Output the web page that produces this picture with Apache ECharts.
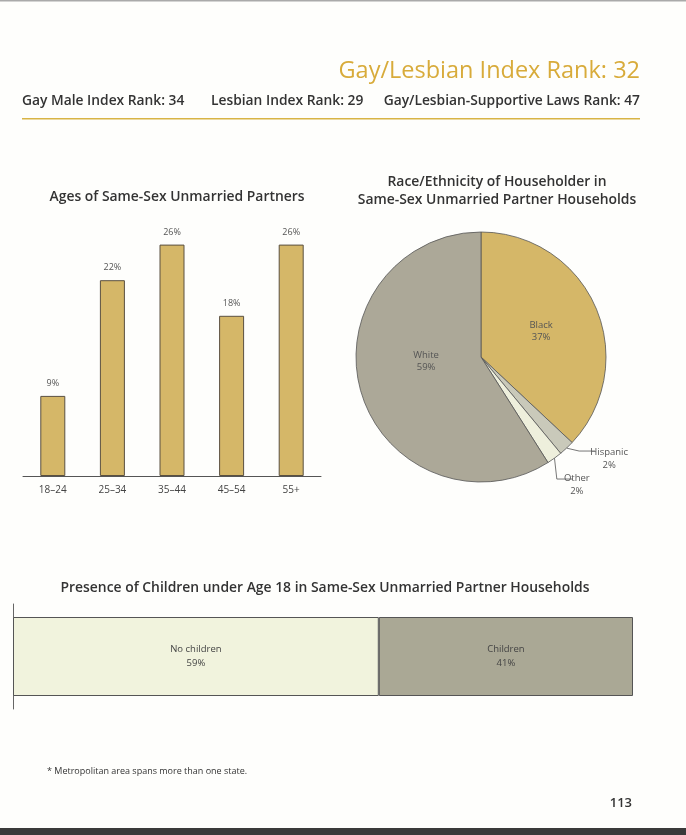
<!DOCTYPE html>
<html><head><meta charset="utf-8">
<script src="https://cdn.jsdelivr.net/npm/echarts@6/dist/echarts.min.js"></script>
<style>html,body{margin:0;padding:0;background:#fefefc}#c{width:686px;height:835px}</style>
</head><body><div id="c"></div>
<script>
// ---- data ----
const ageCategories = ['18–24', '25–34', '35–44', '45–54', '55+'];
const ageValues = [9, 22, 26, 18, 26];
const raceNames = ['Black', 'Hispanic', 'Other', 'White'];
const raceValues = [37, 2, 2, 59];
const childNames = ['No children', 'Children'];
const childValues = [59, 41];

const FONT = '"Open Sans", "Noto Sans", sans-serif';
const GOLD = '#d5b768';
const raceColors = ['#d5b768', '#c9c9ba', '#eeefdc', '#aca898'];
const childColors = ['#f1f3dd', '#aaa895'];

const chart = echarts.init(document.getElementById('c'));

const pieData = raceNames.map((n, i) => {
  const d = { name: n, value: raceValues[i], itemStyle: { color: raceColors[i] } };
  if (i === 1 || i === 2) {
    d.label = { position: 'outside', formatter: '{t|{b}}\n{t|{c}%}' };
    d.labelLine = { show: true, length: 4, length2: 16, lineStyle: { color: '#555', width: 0.8 } };
  }
  return d;
});

const pieShift = { 1: [-10, 8], 2: [-20, 6], 3: [8, -14] };

const option = {
  backgroundColor: '#fefefc',
  animation: false,
  textStyle: { fontFamily: FONT },
  grid: [
    { left: 23, top: 209, width: 298, height: 267 },
    { left: 13, top: 604, width: 620, height: 105 }
  ],
  xAxis: [
    { gridIndex: 0, type: 'category', data: ageCategories,
      axisLine: { lineStyle: { color: '#555', width: 1 } }, axisTick: { show: false },
      axisLabel: { color: '#444', fontSize: 10, margin: 9, fontFamily: FONT } },
    { gridIndex: 1, type: 'value', min: 0, max: 100, show: false }
  ],
  yAxis: [
    { gridIndex: 0, type: 'value', min: 0, max: 30, show: false },
    { gridIndex: 1, type: 'category', data: [''],
      axisLine: { show: true, lineStyle: { color: '#666', width: 1 } },
      axisTick: { show: false }, axisLabel: { show: false }, splitLine: { show: false } }
  ],
  series: [
    { type: 'bar', xAxisIndex: 0, yAxisIndex: 0, data: ageValues, barWidth: 25,
      itemStyle: { color: GOLD, borderColor: '#5a5040', borderWidth: 1 },
      label: { show: true, position: 'top', formatter: '{c}%', color: '#555', fontSize: 9, distance: 8 } },
    ...childNames.map((n, i) => ({
      type: 'bar', name: n, xAxisIndex: 1, yAxisIndex: 1, stack: 'kids', barWidth: 79,
      data: [childValues[i]],
      itemStyle: { color: childColors[i], borderColor: '#555', borderWidth: 1 },
      label: { show: true, position: 'inside', formatter: '{a}\n{c}%', color: '#444', fontSize: 9.5, lineHeight: 14 }
    })),
    { type: 'pie', center: [481, 357], radius: 125, startAngle: 90, clockwise: true,
      data: pieData,
      itemStyle: { borderColor: '#555', borderWidth: 0.8 },
      label: { position: 'inside', formatter: '{b}\n{c}%', color: '#555', fontSize: 9.5, lineHeight: 12,
        rich: { t: { fontSize: 9.5, color: '#555', width: 38, align: 'center', lineHeight: 13 } } },
      labelLayout: function (p) {
        const s = pieShift[p.dataIndex];
        return s ? { dx: s[0], dy: s[1] } : {};
      },
      emphasis: { disabled: true }
    }
  ],
  graphic: [
    { type: 'rect', shape: { x: 0, y: 0, width: 686, height: 1.5 }, style: { fill: '#aaa' } },
    { type: 'rect', shape: { x: 0, y: 828, width: 686, height: 7 }, style: { fill: '#3a3a3a' } },
    { type: 'text', right: 46, top: 59, style: { text: 'Gay/Lesbian Index Rank: 32', fill: '#d8ab3a', font: '23.5px ' + FONT } },
    { type: 'text', left: 22, top: 94, style: { text: 'Gay Male Index Rank: 34', fill: '#333', font: '600 13.8px ' + FONT } },
    { type: 'text', left: 211, top: 94, style: { text: 'Lesbian Index Rank: 29', fill: '#333', font: '600 13.8px ' + FONT } },
    { type: 'text', right: 46, top: 94, style: { text: 'Gay/Lesbian-Supportive Laws Rank: 47', fill: '#333', font: '600 13.8px ' + FONT } },
    { type: 'rect', shape: { x: 22, y: 118, width: 618, height: 1.5 }, style: { fill: '#d8b445' } },
    { type: 'text', x: 177, y: 197, style: { text: 'Ages of Same-Sex Unmarried Partners', fill: '#333', font: '600 13.9px ' + FONT, textAlign: 'center', textVerticalAlign: 'middle' } },
    { type: 'text', x: 497, y: 191, style: { text: 'Race/Ethnicity of Householder in\nSame-Sex Unmarried Partner Households', fill: '#333', font: '600 13.9px ' + FONT, textAlign: 'center', textVerticalAlign: 'middle', lineHeight: 18 } },
    { type: 'text', x: 325, y: 588, style: { text: 'Presence of Children under Age 18 in Same-Sex Unmarried Partner Households', fill: '#333', font: '600 13.9px ' + FONT, textAlign: 'center', textVerticalAlign: 'middle' } },
    { type: 'text', x: 47, y: 771, style: { text: '* Metropolitan area spans more than one state.', fill: '#333', font: '9px ' + FONT, textVerticalAlign: 'middle' } },
    { type: 'text', x: 632, y: 803, style: { text: '113', fill: '#333', font: '600 13px ' + FONT, textAlign: 'right', textVerticalAlign: 'middle' } }
  ]
};
chart.setOption(option);
</script></body></html>
